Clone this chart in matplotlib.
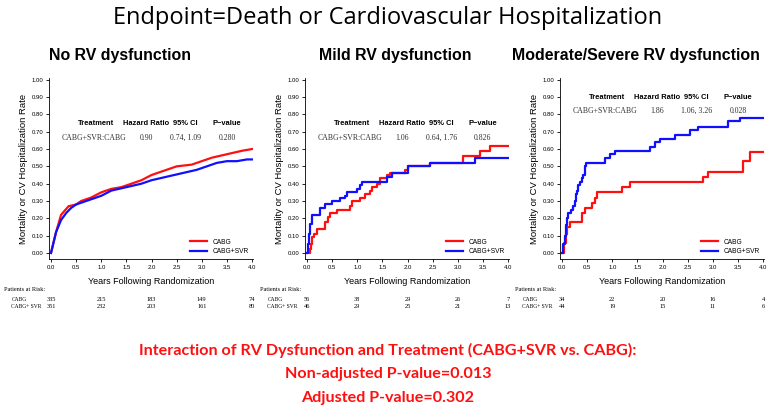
import matplotlib
matplotlib.use('Agg')
import matplotlib.pyplot as plt

# ---- data ----
titles = ['No RV dysfunction', 'Mild RV dysfunction', 'Moderate/Severe RV dysfunction']

# No RV dysfunction (many events -> smooth looking curves)
t1_cabg = [0, 0.05, 0.1, 0.2, 0.35, 0.5, 0.6, 0.8, 1.0, 1.2, 1.4, 1.6, 1.8, 2.0, 2.2,
           2.5, 2.8, 3.0, 3.2, 3.5, 3.8, 4.0]
y1_cabg = [0, 0.06, 0.12, 0.22, 0.27, 0.28, 0.30, 0.32, 0.35, 0.37, 0.38, 0.40, 0.42,
           0.45, 0.47, 0.50, 0.51, 0.53, 0.55, 0.57, 0.59, 0.60]
t1_svr = [0, 0.05, 0.1, 0.2, 0.3, 0.4, 0.5, 0.7, 1.0, 1.2, 1.5, 1.8, 2.0, 2.3, 2.6,
          2.9, 3.1, 3.3, 3.5, 3.7, 3.9, 4.0]
y1_svr = [0, 0.06, 0.12, 0.19, 0.23, 0.26, 0.28, 0.30, 0.33, 0.36, 0.38, 0.40, 0.42,
          0.44, 0.46, 0.48, 0.50, 0.52, 0.53, 0.53, 0.54, 0.54]

# Mild RV dysfunction (step curves)
t2_cabg = [0, 0.05, 0.08, 0.1, 0.13, 0.2, 0.35, 0.42, 0.45, 0.6, 0.85, 0.9, 1.05, 1.15,
           1.25, 1.3, 1.4, 1.45, 1.6, 1.65, 1.95, 2.0, 2.45, 3.1, 3.45, 3.65, 4.0]
y2_cabg = [0, 0.02, 0.05, 0.09, 0.11, 0.14, 0.18, 0.21, 0.23, 0.25, 0.27, 0.30, 0.32,
           0.34, 0.36, 0.38, 0.40, 0.43, 0.45, 0.46, 0.48, 0.50, 0.52, 0.56, 0.59, 0.62, 0.62]
t2_svr = [0, 0.02, 0.04, 0.06, 0.1, 0.25, 0.35, 0.5, 0.65, 0.75, 0.8, 1.0, 1.05, 1.1,
          1.6, 1.7, 2.0, 2.45, 3.35, 4.0]
y2_svr = [0, 0.05, 0.11, 0.17, 0.22, 0.26, 0.28, 0.30, 0.32, 0.33, 0.35, 0.37, 0.39,
          0.41, 0.44, 0.46, 0.50, 0.52, 0.55, 0.55]

# Moderate/Severe RV dysfunction (step curves)
t3_cabg = [0, 0.03, 0.08, 0.1, 0.15, 0.4, 0.45, 0.6, 0.65, 0.7, 1.2, 1.35, 2.8, 2.9,
           3.6, 3.75, 4.0]
y3_cabg = [0, 0.06, 0.11, 0.15, 0.18, 0.23, 0.26, 0.29, 0.32, 0.35, 0.38, 0.41, 0.44,
           0.47, 0.53, 0.585, 0.585]
t3_svr = [0, 0.02, 0.05, 0.07, 0.1, 0.12, 0.18, 0.22, 0.25, 0.28, 0.3, 0.32, 0.35, 0.4,
          0.42, 0.45, 0.48, 0.85, 0.95, 1.05, 1.75, 1.85, 1.95, 2.25, 2.55, 2.7, 3.3,
          3.55, 4.0]
y3_svr = [0, 0.05, 0.10, 0.16, 0.20, 0.23, 0.25, 0.27, 0.30, 0.34, 0.36, 0.39, 0.41,
          0.43, 0.45, 0.50, 0.52, 0.55, 0.57, 0.59, 0.61, 0.64, 0.66, 0.68, 0.71, 0.73,
          0.76, 0.78, 0.78]

curves = [(t1_cabg, y1_cabg, t1_svr, y1_svr),
          (t2_cabg, y2_cabg, t2_svr, y2_svr),
          (t3_cabg, y3_cabg, t3_svr, y3_svr)]
smooth = [True, False, False]

hr_header = ['Treatment', 'Hazard Ratio', '95% CI', 'P\u2212value']
hr_rows = [['CABG+SVR:CABG', '0.90', '0.74, 1.09', '0.280'],
           ['CABG+SVR:CABG', '1.06', '0.64, 1.76', '0.826'],
           ['CABG+SVR:CABG', '1.86', '1.06, 3.26', '0.028']]
hr_ypos = [(0.75, 0.665), (0.75, 0.665), (0.90, 0.82)]
hr_xpos = [0.9, 1.9, 2.68, 3.5]

risk_times = [0, 1, 2, 3, 4]
risk_cabg = [[335, 215, 183, 149, 74], [56, 38, 29, 26, 7], [34, 22, 20, 16, 4]]
risk_svr = [[351, 232, 203, 161, 80], [46, 29, 25, 21, 13], [44, 19, 15, 11, 6]]

bottom_lines = ['Interaction of RV Dysfunction and Treatment (CABG+SVR vs. CABG):',
                'Non-adjusted P-value=0.013',
                'Adjusted P-value=0.302']

RED = '#ff1010'
BLUE = '#1010ff'
SANS = 'Liberation Sans'
SERIF = 'Liberation Serif'

fig = plt.figure(figsize=(7.76, 4.09), dpi=100)
fig.text(0.5, 0.955, 'Endpoint=Death or Cardiovascular Hospitalization',
         ha='center', va='center', fontsize=17, family='Open Sans')

lefts = [49 / 776, 305 / 776, 560 / 776]
title_x = [120 / 776, 395 / 776, 636 / 776]

for i in range(3):
    ax = fig.add_axes([lefts[i], 0.3667, 0.2629, 0.4425])
    tc, yc, ts, ys = curves[i]
    if smooth[i]:
        ax.plot(tc, yc, color=RED, lw=1.6, label='CABG')
        ax.plot(ts, ys, color=BLUE, lw=1.6, label='CABG+SVR')
    else:
        ax.step(tc, yc, where='post', color=RED, lw=1.6, label='CABG')
        ax.step(ts, ys, where='post', color=BLUE, lw=1.6, label='CABG+SVR')
    ax.set_xlim(-0.04, 4.02)
    ax.set_ylim(-0.035, 1.01)
    ax.set_xticks([0, 0.5, 1, 1.5, 2, 2.5, 3, 3.5, 4])
    ax.set_xticklabels(['%.1f' % v for v in ax.get_xticks()], family=SANS, fontsize=4.3)
    ax.set_yticks([j / 10 for j in range(11)])
    ax.set_yticklabels(['%.2f' % (j / 10) for j in range(11)], family=SANS, fontsize=4.3)
    ax.tick_params(length=2, width=0.6, pad=2)
    for s in ['top', 'right']:
        ax.spines[s].set_visible(False)
    for s in ['left', 'bottom']:
        ax.spines[s].set_linewidth(0.6)
    ax.set_xlabel('Years Following Randomization', family=SANS, fontsize=6.5, labelpad=5)
    ax.set_ylabel('Mortality or CV Hospitalization Rate', family=SANS,
                  fontsize=6.8, labelpad=3)

    hy, ry = hr_ypos[i]
    for k in range(4):
        ax.text(hr_xpos[k], hy, hr_header[k], ha='center', va='center', fontsize=5.4,
                fontweight='bold', family=SANS)
        ax.text(hr_xpos[k] - (0.05 if k == 0 else 0), ry, hr_rows[i][k], ha='center',
                va='center', fontsize=5.6, family=SERIF, color='#333333')

    leg = ax.legend(loc='lower right', frameon=False, handlelength=2.6,
                    borderaxespad=0.2, labelspacing=0.35,
                    prop={'family': SANS, 'size': 4.8})
    for txt in leg.get_texts():
        txt.set_ha('right')
    leg._legend_box.align = 'right'

    fig.text(title_x[i], 0.865, titles[i], ha='center', va='center', fontsize=11.4,
             fontweight='bold', family=SANS)

    # patients at risk table
    tr = ax.get_xaxis_transform()
    ax.text(-0.22, -0.171, 'Patients at Risk:', transform=ax.transAxes, fontsize=4.5,
            family=SERIF, va='center')
    ax.text(-0.185, -0.221, 'CABG', transform=ax.transAxes, fontsize=4.0,
            family=SERIF, va='center')
    ax.text(-0.185, -0.265, 'CABG+ SVR', transform=ax.transAxes, fontsize=4.0,
            family=SERIF, va='center')
    for k, t in enumerate(risk_times):
        ax.text(t, -0.221, str(risk_cabg[i][k]), transform=tr, ha='center', va='center',
                fontsize=4.6, family=SERIF, clip_on=False)
        ax.text(t, -0.265, str(risk_svr[i][k]), transform=tr, ha='center', va='center',
                fontsize=4.6, family=SERIF, clip_on=False)

for j, line in enumerate(bottom_lines):
    fig.text(0.5, 1 - (350 + 24 * j) / 409, line, ha='center', va='center', fontsize=11.6,
             fontweight='bold', color=RED, family='Lato')

fig.savefig('out.png', dpi=100)
